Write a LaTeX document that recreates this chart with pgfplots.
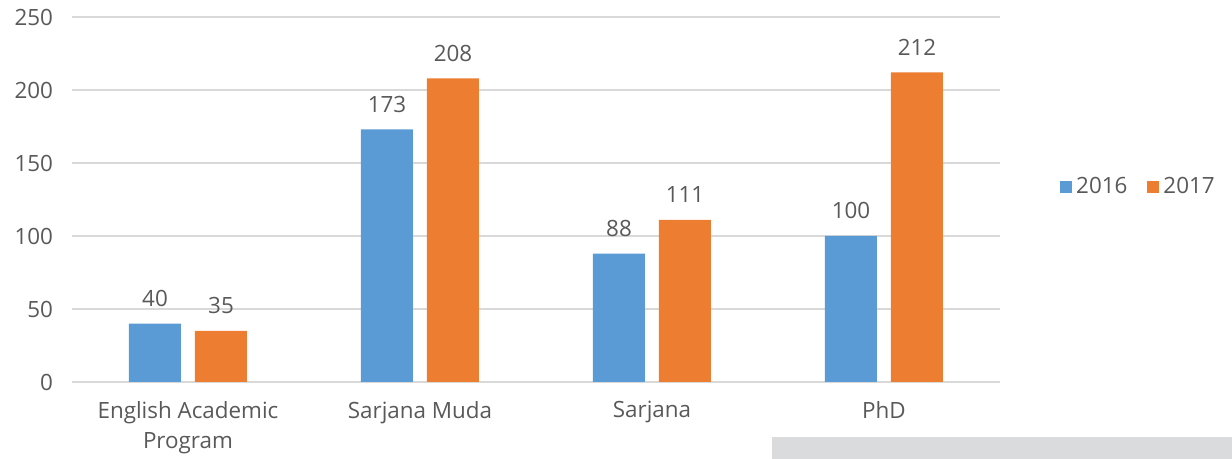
\documentclass[border=0pt]{standalone}
\usepackage{fontspec}
\setmainfont{Open Sans}
\usepackage{pgfplots}
\pgfplotsset{compat=1.18}
\definecolor{blue16}{HTML}{5B9BD5}
\definecolor{orange17}{HTML}{ED7D31}
\definecolor{txt}{HTML}{595959}
\definecolor{gridc}{HTML}{D9D9D9}
\definecolor{boxc}{HTML}{DADBDD}
\begin{document}
\begin{tikzpicture}
\useasboundingbox (-36pt,-38.5pt) rectangle (580pt,191pt);
\fill[boxc] (350pt,-27.5pt) rectangle (580pt,-38.5pt);
\begin{axis}[
  name=ax,
  at={(0,0)}, anchor=south west,
  scale only axis,
  width=464pt, height=182.5pt,
  ybar=7pt,
  bar width=26pt,
  xmin=-0.5, xmax=3.5,
  ymin=0, ymax=250,
  xtick=data,
  xticklabels={{English Academic\\Program}, Sarjana Muda, Sarjana, PhD},
  ytick={0,50,...,250},
  ymajorgrids,
  major grid style={draw=gridc, line width=0.8pt},
  axis line style={draw=none},
  major tick length=0pt,
  font=\fontsize{11.2}{15}\selectfont,
  tick label style={text=txt},
  /pgf/number format/assume math mode=true,
  x tick label style={align=center, yshift=-6pt},
  y tick label style={xshift=-6pt},
  nodes near coords,
  nodes near coords style={text=txt, yshift=5pt},
  legend style={at={(1.058,0.534)}, anchor=west, draw=none, fill=none,
    legend columns=2, text=txt,
    /tikz/every even column/.append style={column sep=8pt}},
  legend image code/.code={\fill[#1,draw=none] (0pt,-3pt) rectangle (6pt,3pt);},
]
\addplot[fill=blue16, draw=none] coordinates {(0,40) (1,173) (2,88) (3,100)};
\addplot[fill=orange17, draw=none] coordinates {(0,35) (1,208) (2,111) (3,212)};
\legend{2016, 2017}
\end{axis}
\end{tikzpicture}
\end{document}
